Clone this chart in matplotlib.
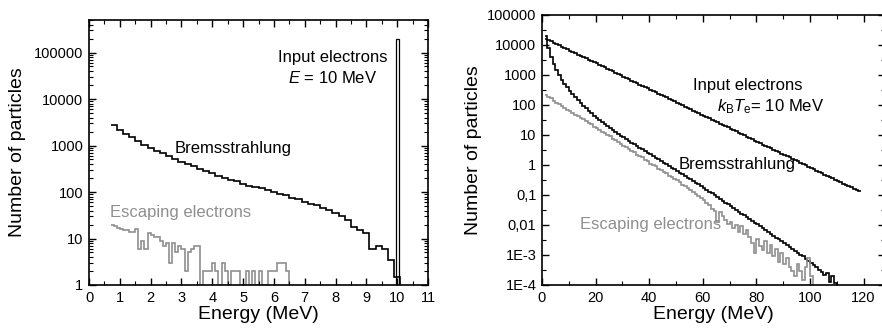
import matplotlib.pyplot as plt
import numpy as np
from matplotlib.ticker import MultipleLocator, LogLocator, NullFormatter

plt.rcParams['font.family'] = ['Liberation Sans', 'DejaVu Sans']
plt.rcParams['mathtext.fontset'] = 'custom'
plt.rcParams['mathtext.rm'] = 'Liberation Sans'
plt.rcParams['mathtext.it'] = 'Liberation Sans:italic'

GRAY = '#8f8f8f'

# ---- left panel: mono-energetic 10 MeV input ----
left_start, left_bin = 0.7, 0.2
brems_left = [2700, 2200, 1800, 1500, 1250, 1050, 900, 780, 680, 590,
              520, 450, 400, 360, 320, 285, 255, 225, 205, 185,
              170, 150, 135, 128, 120, 110, 98, 90, 85, 75,
              70, 62, 55, 52, 46, 42, 36, 30, 25, 18,
              15, 13, 6, 7, 6, 3.5, 1.5, 0.5]
esc_start, esc_bin = 0.7, 0.1
esc_left = [20, 19, 17, 16, 15, 15, 14, 14, 16, 6,
            9, 6, 13, 12, 11, 11, 9, 7, 8, 3,
            8, 5, 7, 6, 2, 5, 6, 7, 7, 0.5,
            2, 2, 2, 3, 2, 1, 3, 2, 1, 2,
            2, 2, 1, 1, 2, 1, 2, 1, 2, 1,
            1, 2, 2, 2, 3, 3, 3, 2, 0.5]
spike_E, spike_w, spike_N = 10.0, 0.1, 2.0e5

# ---- right panel: thermal input, kT = 10 MeV (1 MeV bins from 1 MeV) ----
right_start, right_bin = 1, 1
input_right = [16000, 14500, 13200, 11900, 10600, 9700, 8800, 7900, 7200, 6500,
               5900, 5350, 4800, 4370, 3950, 3600, 3240, 2930, 2650, 2420,
               2170, 1960, 1780, 1610, 1450, 1320, 1190, 1070, 970, 880,
               795, 725, 650, 590, 533, 482, 440, 395, 358, 324,
               293, 268, 240, 217, 196, 178, 161, 145, 131, 119,
               107, 97, 88, 80, 72, 65, 59, 53.3, 48.2, 43.7,
               39.5, 35.8, 32.4, 29.3, 26.5, 24, 21.7, 19.6, 17.8, 16.1,
               14.5, 13.1, 11.9, 10.7, 9.7, 8.8, 7.95, 7.2, 6.5, 5.9,
               5.33, 4.82, 4.37, 3.95, 3.58, 3.24, 2.93, 2.65, 2.4, 2.17,
               1.96, 1.78, 1.61, 1.45, 1.31, 1.19, 1.07, 0.97, 0.88, 0.795,
               0.72, 0.65, 0.59, 0.533, 0.482, 0.437, 0.395, 0.358, 0.324, 0.293,
               0.265, 0.24, 0.217, 0.196, 0.178, 0.161, 0.145, 0.131]
brems_right = [20000, 8000, 4000, 2300, 1500, 1000, 700, 520, 390, 300,
               235, 185, 148, 118, 95, 78, 64, 53, 44, 37,
               31, 26.5, 22.5, 19.5, 17, 14.5, 12.5, 11, 9.6, 8.4,
               7.3, 6.4, 5.6, 4.9, 4.3, 3.8, 3.3, 2.9, 2.55, 2.25,
               2.0, 1.75, 1.55, 1.35, 1.2, 1.05, 0.93, 0.82, 0.72, 0.63,
               0.56, 0.49, 0.43, 0.38, 0.33, 0.29, 0.26, 0.23, 0.2, 0.175,
               0.15, 0.13, 0.115, 0.1, 0.087, 0.075, 0.065, 0.056, 0.049, 0.042,
               0.037, 0.032, 0.028, 0.024, 0.021, 0.018, 0.016, 0.014, 0.012, 0.0105,
               0.009, 0.0078, 0.0068, 0.0059, 0.0051, 0.0044, 0.0038, 0.0033, 0.0029, 0.0025,
               0.0021, 0.0018, 0.0016, 0.0014, 0.0012, 0.001, 0.0009, 0.00075, 0.00065, 0.00055,
               0.00045, 0.0004, 0.00032, 0.00027, 0.00022, 0.00025, 0.00013, 0.0002, 0.00012, 1e-6]
esc_right = [215, 190, 165, 140, 120, 108, 90, 82, 70, 62,
             55, 48, 43, 36, 33, 30, 25, 23, 19, 17.5,
             15, 13, 12, 10, 9.2, 7.5, 6.9, 5.8, 5.2, 4.4,
             3.9, 3.5, 2.9, 2.7, 2.2, 2.0, 1.8, 1.45, 1.35, 1.1,
             1.0, 0.9, 0.75, 0.7, 0.58, 0.53, 0.44, 0.41, 0.34, 0.31,
             0.27, 0.22, 0.2, 0.165, 0.15, 0.125, 0.11, 0.09, 0.08, 0.066,
             0.055, 0.045, 0.035, 0.03, 0.013, 0.028, 0.02, 0.015, 0.011, 0.013,
             0.008, 0.01, 0.006, 0.009, 0.005, 0.007, 0.004, 0.0025, 0.0012, 0.0035,
             0.002, 0.0015, 0.003, 0.0012, 0.0022, 0.0009, 0.0016, 0.0006, 0.0012, 0.0005,
             0.0008, 0.0004, 0.0003, 0.0002, 0.0005, 0.0003, 0.00015, 0.0004, 0.0008, 0.0002,
             1e-6]

right_yticks = [1e-4, 1e-3, 1e-2, 1e-1, 1, 10, 100, 1000, 10000, 100000]
right_ylabels = ['1E-4', '1E-3', '0,01', '0,1', '1', '10', '100', '1000', '10000', '100000']
left_yticks = [1, 10, 100, 1000, 10000, 100000]
left_ylabels = ['1', '10', '100', '1000', '10000', '100000']


def edges(start, width, n):
    return start + width * np.arange(n + 1)


fig = plt.figure(figsize=(8.82, 3.31), dpi=100)
ax1 = fig.add_axes([89/882, 1-285/331, (428-89)/882, (285-20)/331])
ax2 = fig.add_axes([542/882, 1-285/331, (885-542)/882, (285-15)/331])

# left
ax1.stairs(brems_left, edges(left_start, left_bin, len(brems_left)),
           baseline=None, color='black', lw=1.2)
ax1.stairs(esc_left, edges(esc_start, esc_bin, len(esc_left)),
           baseline=None, color=GRAY, lw=1.2)
ax1.stairs([spike_N], [spike_E - spike_w/2, spike_E + spike_w/2],
           baseline=1, color='black', lw=0.9)
ax1.set_yscale('log')
ax1.set_xlim(0, 11)
ax1.set_ylim(1, 5e5)
ax1.xaxis.set_major_locator(MultipleLocator(1))
ax1.xaxis.set_minor_locator(MultipleLocator(0.5))
ax1.set_yticks(left_yticks, left_ylabels)
ax1.yaxis.set_minor_locator(LogLocator(base=10, subs=np.arange(2, 10)))
ax1.yaxis.set_minor_formatter(NullFormatter())
ax1.set_xlabel('Energy (MeV)', fontsize=14, labelpad=1)
ax1.set_ylabel('Number of particles', fontsize=14, labelpad=6)
ax1.text(7.9, 78000, 'Input electrons', ha='center', va='center', fontsize=12)
ax1.text(7.9, 29000, '$E$ = 10 MeV', ha='center', va='center', fontsize=12)
ax1.text(2.78, 870, 'Bremsstrahlung', ha='left', va='center', fontsize=12)
ax1.text(0.68, 37, 'Escaping electrons', ha='left', va='center', fontsize=12, color=GRAY)

# right
ax2.stairs(input_right, edges(right_start, right_bin, len(input_right)),
           baseline=None, color='black', lw=1.2)
ax2.stairs(brems_right, edges(right_start, right_bin, len(brems_right)),
           baseline=None, color='black', lw=1.2)
ax2.stairs(esc_right, edges(right_start, right_bin, len(esc_right)),
           baseline=None, color=GRAY, lw=1.2)
ax2.set_yscale('log')
ax2.set_xlim(0, 128)
ax2.set_ylim(1e-4, 1e5)
ax2.xaxis.set_major_locator(MultipleLocator(20))
ax2.xaxis.set_minor_locator(MultipleLocator(10))
ax2.set_yticks(right_yticks, right_ylabels)
ax2.yaxis.set_minor_locator(LogLocator(base=10, subs=[np.sqrt(10)]))
ax2.yaxis.set_minor_formatter(NullFormatter())
ax2.set_xlabel('Energy (MeV)', fontsize=14, labelpad=1)
ax2.set_ylabel('Number of particles', fontsize=14, labelpad=4)
ax2.text(56.4, 430, 'Input electrons', ha='left', va='center', fontsize=12)
ax2.text(65.4, 86, '$k_\\mathrm{B}T_\\mathrm{e}$= 10 MeV', ha='left', va='center', fontsize=12)
ax2.text(50.8, 1.07, 'Bremsstrahlung', ha='left', va='center', fontsize=12)
ax2.text(14.2, 0.01, 'Escaping electrons', ha='left', va='center', fontsize=12, color=GRAY)

for ax in (ax1, ax2):
    ax.tick_params(which='both', direction='in', top=True, right=True,
                   labelsize=10.5, pad=4)
    ax.tick_params(which='major', length=5, width=1.0)
    ax.tick_params(which='minor', length=3, width=0.8)
    for s in ax.spines.values():
        s.set_linewidth(1.2)

fig.savefig('out.png', dpi=100)
